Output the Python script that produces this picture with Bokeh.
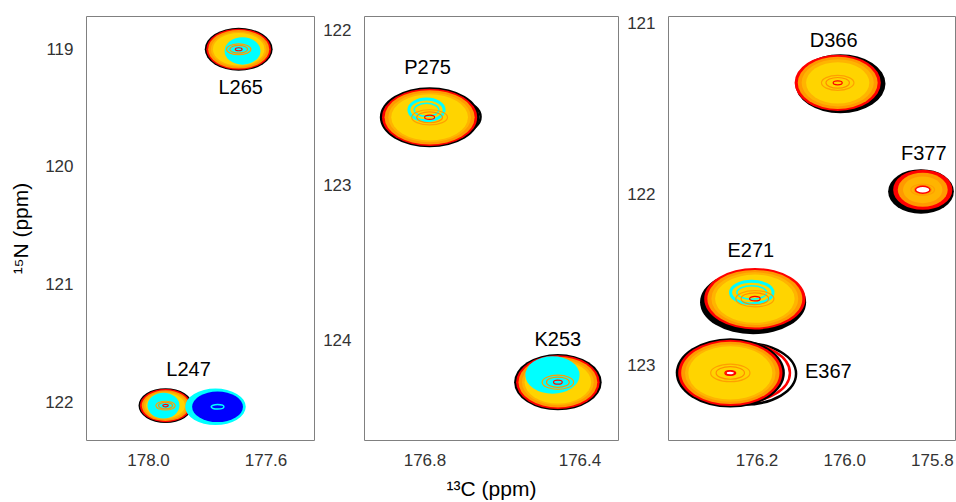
from bokeh.plotting import figure
from bokeh.layouts import row
from bokeh.models import Range1d, FixedTicker, PrintfTickFormatter, ColumnDataSource
from bokeh.core.properties import value
from bokeh.embed import file_html
from bokeh.resources import INLINE

# ---------------- data (ppm) ----------------
peak_names = ["L265", "L247", "P275", "K253", "D366", "F377", "E271", "E367"]
peak_panel = [0, 0, 1, 1, 2, 2, 2, 2]
peak_c13 = [177.693, 177.942, 176.788, 176.457, 176.016, 175.822, 176.205, 176.261]
peak_n15 = [119.006, 122.030, 122.565, 124.273, 121.349, 121.974, 122.611, 123.045]
peak_wc = [0.231, 0.184, 0.257, 0.226, 0.206, 0.150, 0.242, 0.249]
peak_wn = [0.365, 0.295, 0.387, 0.363, 0.344, 0.261, 0.376, 0.405]
# shift of the black (first) spectrum relative to the others
black_dc = [0.0, 0.0, 0.0, 0.0, -0.006, 0.004, 0.004, 0.0]
black_dn = [0.0, 0.0, 0.0, 0.0, 0.005, 0.010, 0.020, 0.0]

# extra visible contour outlines of shifted spectra
extra_panel = [1, 2, 2]
extra_c13 = [176.700, 176.229, 176.236]
extra_n15 = [122.562, 123.050, 123.045]
extra_wc = [0.087, 0.236, 0.222]
extra_wn = [0.180, 0.360, 0.345]
extra_color = ["black", "black", "red"]

# cyan spectrum contours
cyan_panel = [0, 0, 0, 1, 1, 2]
cyan_c13 = [177.680, 177.949, 177.772, 176.796, 176.471, 176.212]
cyan_n15 = [119.020, 122.030, 122.040, 122.517, 124.227, 122.575]
cyan_wc = [0.122, 0.109, 0.206, 0.091, 0.140, 0.097]
cyan_wn = [0.233, 0.220, 0.310, 0.140, 0.241, 0.131]
cyan_filled = [True, True, True, False, True, False]

# blue spectrum contours
blue_panel = [0]
blue_c13 = [177.765]
blue_n15 = [122.040]
blue_wc = [0.173]
blue_wn = [0.260]

panel_x_ticks = [[178.0, 177.6], [176.8, 176.4], [176.2, 176.0, 175.8]]
panel_y_ticks = [[119, 120, 121, 122], [122, 123, 124], [121, 122, 123]]
panel_x_range = [(178.211, 177.435), (176.956, 176.3006), (176.402, 175.745)]
panel_y_range = [(122.326, 118.728), (124.649, 121.915), (123.440, 120.961)]

x_title = "¹³C (ppm)"
y_title = "¹⁵N (ppm)"

# ---------------- style ----------------
FONT = "Liberation Sans"
LEVEL_COLORS = ["black", "#ff0000", "#ff9900", "#ffb400", "#ffd400"]
#                 L265  L247  P275  K253  D366  F377  E271  E367
LEVEL_SCALES = [[1.0, 1.0, 1.0, 1.0, 1.0, 1.0, 1.0, 1.0],
                [0.955, 0.95, 0.955, 0.955, 0.955, 0.90, 0.955, 0.955],
                [0.90, 0.88, 0.905, 0.90, 0.885, 0.76, 0.895, 0.90],
                [0.82, 0.80, 0.83, 0.82, 0.80, 0.60, 0.82, 0.83],
                [0.76, 0.72, 0.77, 0.76, 0.70, 0.0, 0.75, 0.77]]
INNER = [("#ffa000", 0.36), ("#ff9000", 0.26), ("#ff0000", 0.10)]
WHITE_CORE = [0.0, 0.0, 0.0, 0.0, 0.0, 0.22, 0.0, 0.08]
LABEL_DX = [2, 23, -2, 0, -4, 1, -4, 98]
LABEL_DY = [38, -37, -50, -43, -43, -37, -49, -2]

WIDTHS = [320, 304, 332]
BORDER_L = [86, 42, 41]
BORDER_R = [6, 6, 0]

figs = []
for k in range(3):
    p = figure(width=WIDTHS[k], height=502, output_backend="svg", toolbar_location=None,
               x_range=Range1d(*panel_x_range[k]), y_range=Range1d(*panel_y_range[k]),
               min_border_left=BORDER_L[k], min_border_right=BORDER_R[k],
               min_border_top=16, min_border_bottom=59)
    p.grid.visible = False
    p.outline_line_color = "#808080"
    p.outline_line_width = 1
    p.background_fill_color = "white"
    p.border_fill_color = "white"
    for ax in (p.xaxis[0], p.yaxis[0]):
        ax.axis_line_color = None
        ax.major_tick_line_color = None
        ax.minor_tick_line_color = None
        ax.major_label_text_font = FONT
        ax.major_label_text_font_size = "17px"
        ax.major_label_text_color = "#333333"
        ax.major_label_standoff = 7
        ax.axis_label_text_font = FONT
        ax.axis_label_text_font_size = "21px"
        ax.axis_label_text_font_style = "normal"
        ax.axis_label_text_color = "black"
    p.xaxis.ticker = FixedTicker(ticks=panel_x_ticks[k])
    p.yaxis.ticker = FixedTicker(ticks=panel_y_ticks[k])
    p.xaxis.formatter = PrintfTickFormatter(format="%.1f")
    p.yaxis.formatter = PrintfTickFormatter(format="%d")
    if k == 0:
        p.yaxis.axis_label = y_title
        p.yaxis.axis_label_standoff = 10
    if k == 1:
        p.xaxis.axis_label = x_title
        p.xaxis.axis_label_standoff = 8

    idx = [i for i in range(len(peak_names)) if peak_panel[i] == k]

    # extra shifted outlines (under the main bodies)
    eidx = [i for i in range(len(extra_panel)) if extra_panel[i] == k]
    for i in eidx:
        p.ellipse(x=[extra_c13[i]], y=[extra_n15[i]], width=[extra_wc[i]], height=[extra_wn[i]],
                  fill_color=None, line_color=extra_color[i], line_width=2.5)

    # main filled contour levels
    for li, col in enumerate(LEVEL_COLORS):
        sel = [i for i in idx if LEVEL_SCALES[li][i] > 0]
        xs = [peak_c13[i] + (black_dc[i] if li == 0 else 0.0) for i in sel]
        ys = [peak_n15[i] + (black_dn[i] if li == 0 else 0.0) for i in sel]
        p.ellipse(x=xs, y=ys, width=[peak_wc[i] * LEVEL_SCALES[li][i] for i in sel],
                  height=[peak_wn[i] * LEVEL_SCALES[li][i] for i in sel],
                  fill_color=col, line_color=None)

    # cyan spectrum
    cidx = [i for i in range(len(cyan_panel)) if cyan_panel[i] == k]
    for i in cidx:
        if cyan_filled[i]:
            p.ellipse(x=[cyan_c13[i]], y=[cyan_n15[i]], width=[cyan_wc[i]], height=[cyan_wn[i]],
                      fill_color="#00ffff", line_color=None)
        else:
            p.ellipse(x=[cyan_c13[i]], y=[cyan_n15[i]], width=[cyan_wc[i]], height=[cyan_wn[i]],
                      fill_color=None, line_color="#00ffff", line_width=3)
            p.ellipse(x=[cyan_c13[i]], y=[cyan_n15[i]], width=[cyan_wc[i] * 0.7],
                      height=[cyan_wn[i] * 0.6],
                      fill_color=None, line_color="#00ffff", line_width=1.5)

    # blue spectrum
    bidx = [i for i in range(len(blue_panel)) if blue_panel[i] == k]
    for i in bidx:
        p.ellipse(x=[blue_c13[i]], y=[blue_n15[i]], width=[blue_wc[i]], height=[blue_wn[i]],
                  fill_color="#0000ff", line_color=None)
        p.ellipse(x=[blue_c13[i]], y=[blue_n15[i]], width=[blue_wc[i] * 0.25],
                  height=[blue_wn[i] * 0.15], fill_color=None, line_color="#00ffff", line_width=1.5)

    # inner thin contours
    for col, s in INNER:
        p.ellipse(x=[peak_c13[i] for i in idx], y=[peak_n15[i] for i in idx],
                  width=[peak_wc[i] * s for i in idx], height=[peak_wn[i] * s * 0.7 for i in idx],
                  fill_color=None, line_color=col, line_width=1.2)
    widx = [i for i in idx if WHITE_CORE[i] > 0]
    if widx:
        p.ellipse(x=[peak_c13[i] for i in widx], y=[peak_n15[i] for i in widx],
                  width=[peak_wc[i] * WHITE_CORE[i] for i in widx],
                  height=[peak_wn[i] * WHITE_CORE[i] * 0.7 for i in widx],
                  fill_color="white", line_color="#ff0000", line_width=1.5)

    # peak labels
    src = ColumnDataSource(dict(x=[peak_c13[i] for i in idx], y=[peak_n15[i] for i in idx],
                                t=[peak_names[i] for i in idx],
                                dx=[LABEL_DX[i] for i in idx], dy=[LABEL_DY[i] for i in idx]))
    p.text(x="x", y="y", text="t", x_offset="dx", y_offset="dy", source=src,
           text_font=value(FONT), text_font_size="20px", text_color="black",
           text_align="center", text_baseline="middle")
    figs.append(p)

layout = row(*figs)
open("out.html", "w").write(file_html(layout, INLINE))
